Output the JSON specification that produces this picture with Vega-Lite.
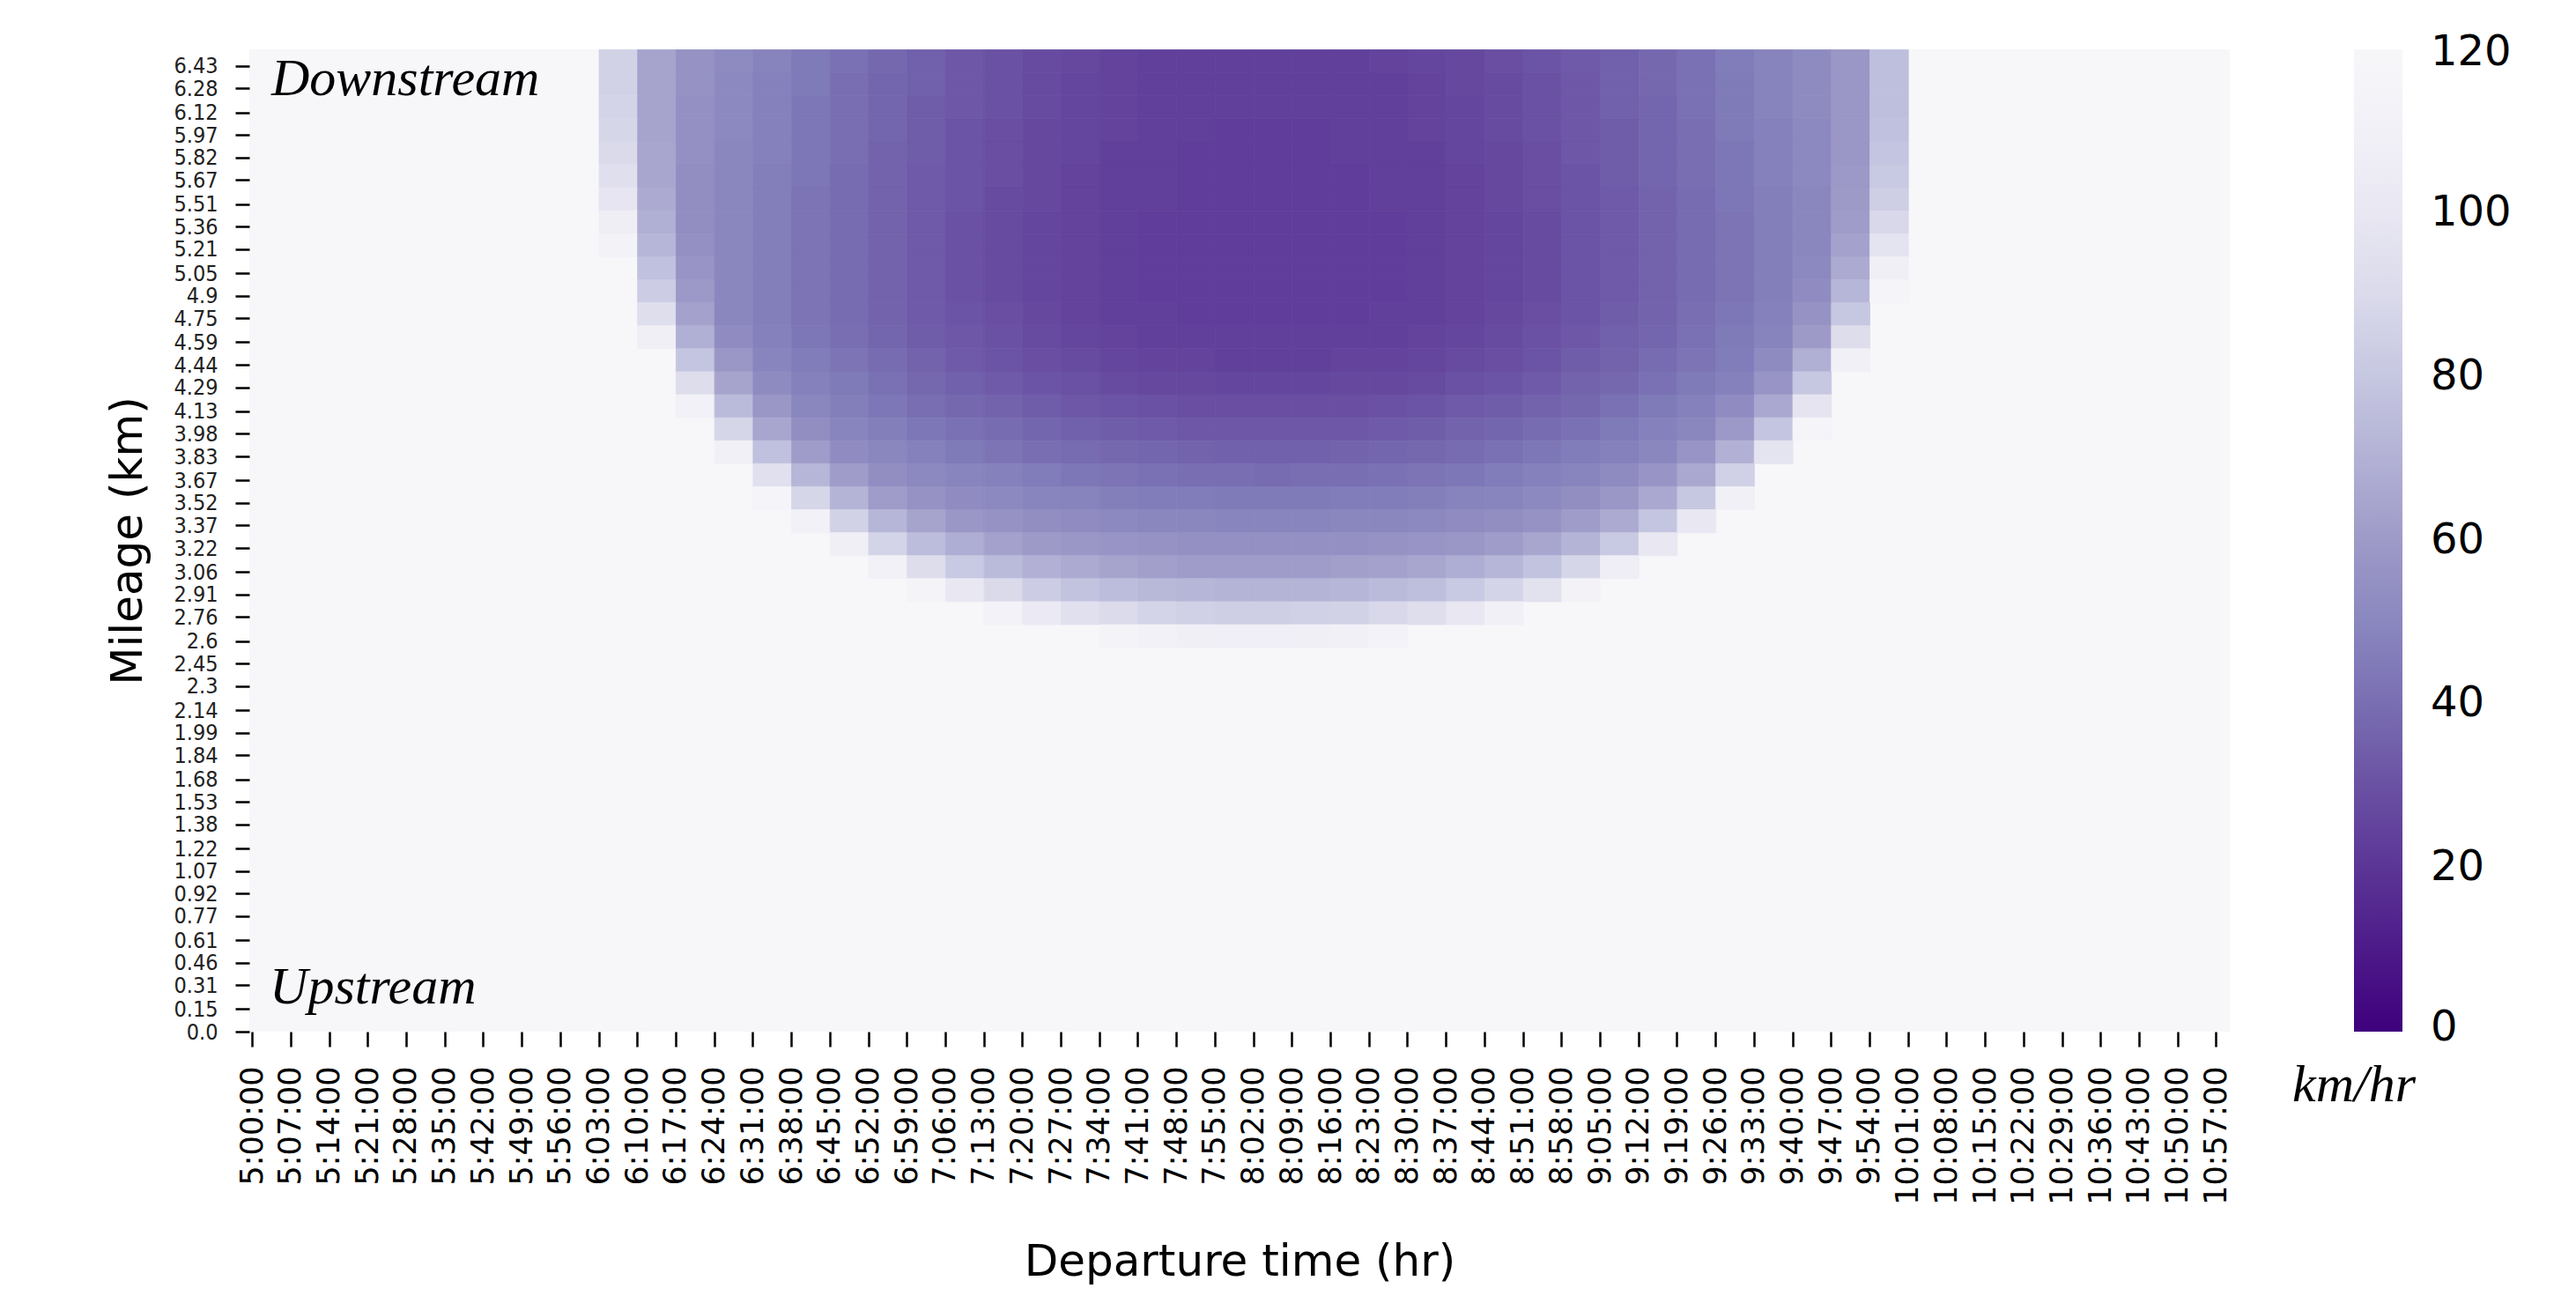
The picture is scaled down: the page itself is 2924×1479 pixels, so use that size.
{
"$schema":"https://vega.github.io/schema/vega-lite/v6.json",
"width":2248,"height":1115,
"autosize":{"type":"none"},
"padding":{"left":283,"top":56,"right":393,"bottom":308},
"background":"white",
"config":{"font":"DejaVu Sans","view":{"stroke":null,"fill":"#f7f7fa"},"axis":{"domain":false,"grid":false,"tickColor":"black","labelColor":"black","titleColor":"black","titleFontWeight":"normal","tickWidth":2.5,"labelOverlap":false,"labelFlush":false}},
"layer":[
{"data":{"values":[
{"min":63,"km":6.43,"v":86},{"min":70,"km":6.43,"v":64},{"min":77,"km":6.43,"v":56},{"min":84,"km":6.43,"v":52},{"min":91,"km":6.43,"v":48},{"min":98,"km":6.43,"v":44},{"min":105,"km":6.43,"v":41},{"min":112,"km":6.43,"v":38},{"min":119,"km":6.43,"v":35},{"min":126,"km":6.43,"v":32},{"min":133,"km":6.43,"v":30},{"min":140,"km":6.43,"v":28},{"min":147,"km":6.43,"v":27},{"min":154,"km":6.43,"v":25},{"min":161,"km":6.43,"v":24},{"min":168,"km":6.43,"v":24},{"min":175,"km":6.43,"v":24},{"min":182,"km":6.43,"v":24},{"min":189,"km":6.43,"v":24},{"min":196,"km":6.43,"v":24},{"min":203,"km":6.43,"v":25},{"min":210,"km":6.43,"v":26},{"min":217,"km":6.43,"v":27},{"min":224,"km":6.43,"v":29},{"min":231,"km":6.43,"v":31},{"min":238,"km":6.43,"v":33},{"min":245,"km":6.43,"v":35},{"min":252,"km":6.43,"v":38},{"min":259,"km":6.43,"v":41},{"min":266,"km":6.43,"v":45},{"min":273,"km":6.43,"v":48},{"min":280,"km":6.43,"v":52},{"min":287,"km":6.43,"v":58},{"min":294,"km":6.43,"v":76},
{"min":63,"km":6.28,"v":86},{"min":70,"km":6.28,"v":64},{"min":77,"km":6.28,"v":56},{"min":84,"km":6.28,"v":51},{"min":91,"km":6.28,"v":47},{"min":98,"km":6.28,"v":44},{"min":105,"km":6.28,"v":40},{"min":112,"km":6.28,"v":37},{"min":119,"km":6.28,"v":35},{"min":126,"km":6.28,"v":32},{"min":133,"km":6.28,"v":30},{"min":140,"km":6.28,"v":28},{"min":147,"km":6.28,"v":26},{"min":154,"km":6.28,"v":25},{"min":161,"km":6.28,"v":24},{"min":168,"km":6.28,"v":24},{"min":175,"km":6.28,"v":24},{"min":182,"km":6.28,"v":24},{"min":189,"km":6.28,"v":24},{"min":196,"km":6.28,"v":24},{"min":203,"km":6.28,"v":24},{"min":210,"km":6.28,"v":25},{"min":217,"km":6.28,"v":27},{"min":224,"km":6.28,"v":28},{"min":231,"km":6.28,"v":30},{"min":238,"km":6.28,"v":32},{"min":245,"km":6.28,"v":35},{"min":252,"km":6.28,"v":38},{"min":259,"km":6.28,"v":41},{"min":266,"km":6.28,"v":44},{"min":273,"km":6.28,"v":48},{"min":280,"km":6.28,"v":52},{"min":287,"km":6.28,"v":58},{"min":294,"km":6.28,"v":76},
{"min":63,"km":6.12,"v":87},{"min":70,"km":6.12,"v":64},{"min":77,"km":6.12,"v":55},{"min":84,"km":6.12,"v":51},{"min":91,"km":6.12,"v":47},{"min":98,"km":6.12,"v":43},{"min":105,"km":6.12,"v":40},{"min":112,"km":6.12,"v":37},{"min":119,"km":6.12,"v":34},{"min":126,"km":6.12,"v":32},{"min":133,"km":6.12,"v":30},{"min":140,"km":6.12,"v":28},{"min":147,"km":6.12,"v":26},{"min":154,"km":6.12,"v":25},{"min":161,"km":6.12,"v":24},{"min":168,"km":6.12,"v":24},{"min":175,"km":6.12,"v":24},{"min":182,"km":6.12,"v":24},{"min":189,"km":6.12,"v":24},{"min":196,"km":6.12,"v":24},{"min":203,"km":6.12,"v":24},{"min":210,"km":6.12,"v":25},{"min":217,"km":6.12,"v":26},{"min":224,"km":6.12,"v":28},{"min":231,"km":6.12,"v":30},{"min":238,"km":6.12,"v":32},{"min":245,"km":6.12,"v":35},{"min":252,"km":6.12,"v":37},{"min":259,"km":6.12,"v":41},{"min":266,"km":6.12,"v":44},{"min":273,"km":6.12,"v":48},{"min":280,"km":6.12,"v":52},{"min":287,"km":6.12,"v":58},{"min":294,"km":6.12,"v":76},
{"min":63,"km":5.97,"v":88},{"min":70,"km":5.97,"v":64},{"min":77,"km":5.97,"v":55},{"min":84,"km":5.97,"v":51},{"min":91,"km":5.97,"v":47},{"min":98,"km":5.97,"v":43},{"min":105,"km":5.97,"v":40},{"min":112,"km":5.97,"v":37},{"min":119,"km":5.97,"v":34},{"min":126,"km":5.97,"v":31},{"min":133,"km":5.97,"v":29},{"min":140,"km":5.97,"v":27},{"min":147,"km":5.97,"v":26},{"min":154,"km":5.97,"v":25},{"min":161,"km":5.97,"v":24},{"min":168,"km":5.97,"v":24},{"min":175,"km":5.97,"v":23},{"min":182,"km":5.97,"v":23},{"min":189,"km":5.97,"v":23},{"min":196,"km":5.97,"v":24},{"min":203,"km":5.97,"v":24},{"min":210,"km":5.97,"v":25},{"min":217,"km":5.97,"v":26},{"min":224,"km":5.97,"v":28},{"min":231,"km":5.97,"v":30},{"min":238,"km":5.97,"v":32},{"min":245,"km":5.97,"v":34},{"min":252,"km":5.97,"v":37},{"min":259,"km":5.97,"v":40},{"min":266,"km":5.97,"v":44},{"min":273,"km":5.97,"v":47},{"min":280,"km":5.97,"v":51},{"min":287,"km":5.97,"v":58},{"min":294,"km":5.97,"v":77},
{"min":63,"km":5.82,"v":90},{"min":70,"km":5.82,"v":65},{"min":77,"km":5.82,"v":55},{"min":84,"km":5.82,"v":50},{"min":91,"km":5.82,"v":47},{"min":98,"km":5.82,"v":43},{"min":105,"km":5.82,"v":40},{"min":112,"km":5.82,"v":36},{"min":119,"km":5.82,"v":34},{"min":126,"km":5.82,"v":31},{"min":133,"km":5.82,"v":29},{"min":140,"km":5.82,"v":27},{"min":147,"km":5.82,"v":26},{"min":154,"km":5.82,"v":24},{"min":161,"km":5.82,"v":24},{"min":168,"km":5.82,"v":23},{"min":175,"km":5.82,"v":23},{"min":182,"km":5.82,"v":23},{"min":189,"km":5.82,"v":23},{"min":196,"km":5.82,"v":24},{"min":203,"km":5.82,"v":24},{"min":210,"km":5.82,"v":24},{"min":217,"km":5.82,"v":26},{"min":224,"km":5.82,"v":27},{"min":231,"km":5.82,"v":29},{"min":238,"km":5.82,"v":32},{"min":245,"km":5.82,"v":34},{"min":252,"km":5.82,"v":37},{"min":259,"km":5.82,"v":40},{"min":266,"km":5.82,"v":43},{"min":273,"km":5.82,"v":47},{"min":280,"km":5.82,"v":51},{"min":287,"km":5.82,"v":58},{"min":294,"km":5.82,"v":79},
{"min":63,"km":5.67,"v":94},{"min":70,"km":5.67,"v":65},{"min":77,"km":5.67,"v":54},{"min":84,"km":5.67,"v":50},{"min":91,"km":5.67,"v":46},{"min":98,"km":5.67,"v":43},{"min":105,"km":5.67,"v":39},{"min":112,"km":5.67,"v":36},{"min":119,"km":5.67,"v":33},{"min":126,"km":5.67,"v":31},{"min":133,"km":5.67,"v":29},{"min":140,"km":5.67,"v":27},{"min":147,"km":5.67,"v":25},{"min":154,"km":5.67,"v":24},{"min":161,"km":5.67,"v":24},{"min":168,"km":5.67,"v":23},{"min":175,"km":5.67,"v":23},{"min":182,"km":5.67,"v":23},{"min":189,"km":5.67,"v":23},{"min":196,"km":5.67,"v":23},{"min":203,"km":5.67,"v":24},{"min":210,"km":5.67,"v":24},{"min":217,"km":5.67,"v":25},{"min":224,"km":5.67,"v":27},{"min":231,"km":5.67,"v":29},{"min":238,"km":5.67,"v":31},{"min":245,"km":5.67,"v":34},{"min":252,"km":5.67,"v":37},{"min":259,"km":5.67,"v":40},{"min":266,"km":5.67,"v":43},{"min":273,"km":5.67,"v":47},{"min":280,"km":5.67,"v":51},{"min":287,"km":5.67,"v":59},{"min":294,"km":5.67,"v":81},
{"min":63,"km":5.51,"v":99},{"min":70,"km":5.51,"v":67},{"min":77,"km":5.51,"v":54},{"min":84,"km":5.51,"v":50},{"min":91,"km":5.51,"v":46},{"min":98,"km":5.51,"v":42},{"min":105,"km":5.51,"v":39},{"min":112,"km":5.51,"v":36},{"min":119,"km":5.51,"v":33},{"min":126,"km":5.51,"v":31},{"min":133,"km":5.51,"v":28},{"min":140,"km":5.51,"v":27},{"min":147,"km":5.51,"v":25},{"min":154,"km":5.51,"v":24},{"min":161,"km":5.51,"v":24},{"min":168,"km":5.51,"v":23},{"min":175,"km":5.51,"v":23},{"min":182,"km":5.51,"v":23},{"min":189,"km":5.51,"v":23},{"min":196,"km":5.51,"v":23},{"min":203,"km":5.51,"v":24},{"min":210,"km":5.51,"v":24},{"min":217,"km":5.51,"v":25},{"min":224,"km":5.51,"v":27},{"min":231,"km":5.51,"v":29},{"min":238,"km":5.51,"v":31},{"min":245,"km":5.51,"v":33},{"min":252,"km":5.51,"v":36},{"min":259,"km":5.51,"v":39},{"min":266,"km":5.51,"v":43},{"min":273,"km":5.51,"v":46},{"min":280,"km":5.51,"v":50},{"min":287,"km":5.51,"v":60},{"min":294,"km":5.51,"v":84},
{"min":63,"km":5.36,"v":106},{"min":70,"km":5.36,"v":69},{"min":77,"km":5.36,"v":54},{"min":84,"km":5.36,"v":50},{"min":91,"km":5.36,"v":46},{"min":98,"km":5.36,"v":42},{"min":105,"km":5.36,"v":39},{"min":112,"km":5.36,"v":36},{"min":119,"km":5.36,"v":33},{"min":126,"km":5.36,"v":30},{"min":133,"km":5.36,"v":28},{"min":140,"km":5.36,"v":26},{"min":147,"km":5.36,"v":25},{"min":154,"km":5.36,"v":24},{"min":161,"km":5.36,"v":23},{"min":168,"km":5.36,"v":23},{"min":175,"km":5.36,"v":23},{"min":182,"km":5.36,"v":23},{"min":189,"km":5.36,"v":23},{"min":196,"km":5.36,"v":23},{"min":203,"km":5.36,"v":23},{"min":210,"km":5.36,"v":24},{"min":217,"km":5.36,"v":25},{"min":224,"km":5.36,"v":26},{"min":231,"km":5.36,"v":28},{"min":238,"km":5.36,"v":31},{"min":245,"km":5.36,"v":33},{"min":252,"km":5.36,"v":36},{"min":259,"km":5.36,"v":39},{"min":266,"km":5.36,"v":42},{"min":273,"km":5.36,"v":46},{"min":280,"km":5.36,"v":50},{"min":287,"km":5.36,"v":61},{"min":294,"km":5.36,"v":89},
{"min":63,"km":5.21,"v":112},{"min":70,"km":5.21,"v":72},{"min":77,"km":5.21,"v":55},{"min":84,"km":5.21,"v":50},{"min":91,"km":5.21,"v":46},{"min":98,"km":5.21,"v":42},{"min":105,"km":5.21,"v":39},{"min":112,"km":5.21,"v":36},{"min":119,"km":5.21,"v":33},{"min":126,"km":5.21,"v":30},{"min":133,"km":5.21,"v":28},{"min":140,"km":5.21,"v":26},{"min":147,"km":5.21,"v":25},{"min":154,"km":5.21,"v":24},{"min":161,"km":5.21,"v":23},{"min":168,"km":5.21,"v":23},{"min":175,"km":5.21,"v":23},{"min":182,"km":5.21,"v":23},{"min":189,"km":5.21,"v":23},{"min":196,"km":5.21,"v":23},{"min":203,"km":5.21,"v":23},{"min":210,"km":5.21,"v":24},{"min":217,"km":5.21,"v":25},{"min":224,"km":5.21,"v":26},{"min":231,"km":5.21,"v":28},{"min":238,"km":5.21,"v":31},{"min":245,"km":5.21,"v":33},{"min":252,"km":5.21,"v":36},{"min":259,"km":5.21,"v":39},{"min":266,"km":5.21,"v":42},{"min":273,"km":5.21,"v":46},{"min":280,"km":5.21,"v":50},{"min":287,"km":5.21,"v":63},{"min":294,"km":5.21,"v":97},
{"min":70,"km":5.05,"v":77},{"min":77,"km":5.05,"v":57},{"min":84,"km":5.05,"v":50},{"min":91,"km":5.05,"v":46},{"min":98,"km":5.05,"v":42},{"min":105,"km":5.05,"v":39},{"min":112,"km":5.05,"v":36},{"min":119,"km":5.05,"v":33},{"min":126,"km":5.05,"v":30},{"min":133,"km":5.05,"v":28},{"min":140,"km":5.05,"v":26},{"min":147,"km":5.05,"v":25},{"min":154,"km":5.05,"v":24},{"min":161,"km":5.05,"v":23},{"min":168,"km":5.05,"v":23},{"min":175,"km":5.05,"v":23},{"min":182,"km":5.05,"v":23},{"min":189,"km":5.05,"v":23},{"min":196,"km":5.05,"v":23},{"min":203,"km":5.05,"v":23},{"min":210,"km":5.05,"v":24},{"min":217,"km":5.05,"v":25},{"min":224,"km":5.05,"v":26},{"min":231,"km":5.05,"v":28},{"min":238,"km":5.05,"v":31},{"min":245,"km":5.05,"v":33},{"min":252,"km":5.05,"v":36},{"min":259,"km":5.05,"v":39},{"min":266,"km":5.05,"v":42},{"min":273,"km":5.05,"v":46},{"min":280,"km":5.05,"v":51},{"min":287,"km":5.05,"v":67},{"min":294,"km":5.05,"v":108},
{"min":70,"km":4.9,"v":83},{"min":77,"km":4.9,"v":59},{"min":84,"km":4.9,"v":50},{"min":91,"km":4.9,"v":46},{"min":98,"km":4.9,"v":42},{"min":105,"km":4.9,"v":39},{"min":112,"km":4.9,"v":36},{"min":119,"km":4.9,"v":33},{"min":126,"km":4.9,"v":30},{"min":133,"km":4.9,"v":28},{"min":140,"km":4.9,"v":26},{"min":147,"km":4.9,"v":25},{"min":154,"km":4.9,"v":24},{"min":161,"km":4.9,"v":23},{"min":168,"km":4.9,"v":23},{"min":175,"km":4.9,"v":23},{"min":182,"km":4.9,"v":23},{"min":189,"km":4.9,"v":23},{"min":196,"km":4.9,"v":23},{"min":203,"km":4.9,"v":23},{"min":210,"km":4.9,"v":24},{"min":217,"km":4.9,"v":25},{"min":224,"km":4.9,"v":26},{"min":231,"km":4.9,"v":28},{"min":238,"km":4.9,"v":31},{"min":245,"km":4.9,"v":33},{"min":252,"km":4.9,"v":36},{"min":259,"km":4.9,"v":39},{"min":266,"km":4.9,"v":42},{"min":273,"km":4.9,"v":46},{"min":280,"km":4.9,"v":53},{"min":287,"km":4.9,"v":72},{"min":294,"km":4.9,"v":116},
{"min":70,"km":4.75,"v":93},{"min":77,"km":4.75,"v":63},{"min":84,"km":4.75,"v":50},{"min":91,"km":4.75,"v":46},{"min":98,"km":4.75,"v":42},{"min":105,"km":4.75,"v":39},{"min":112,"km":4.75,"v":36},{"min":119,"km":4.75,"v":33},{"min":126,"km":4.75,"v":31},{"min":133,"km":4.75,"v":29},{"min":140,"km":4.75,"v":27},{"min":147,"km":4.75,"v":25},{"min":154,"km":4.75,"v":24},{"min":161,"km":4.75,"v":24},{"min":168,"km":4.75,"v":23},{"min":175,"km":4.75,"v":23},{"min":182,"km":4.75,"v":23},{"min":189,"km":4.75,"v":23},{"min":196,"km":4.75,"v":23},{"min":203,"km":4.75,"v":24},{"min":210,"km":4.75,"v":24},{"min":217,"km":4.75,"v":25},{"min":224,"km":4.75,"v":27},{"min":231,"km":4.75,"v":29},{"min":238,"km":4.75,"v":31},{"min":245,"km":4.75,"v":34},{"min":252,"km":4.75,"v":36},{"min":259,"km":4.75,"v":40},{"min":266,"km":4.75,"v":43},{"min":273,"km":4.75,"v":47},{"min":280,"km":4.75,"v":56},{"min":287,"km":4.75,"v":80},
{"min":70,"km":4.59,"v":108},{"min":77,"km":4.59,"v":69},{"min":84,"km":4.59,"v":53},{"min":91,"km":4.59,"v":47},{"min":98,"km":4.59,"v":43},{"min":105,"km":4.59,"v":40},{"min":112,"km":4.59,"v":37},{"min":119,"km":4.59,"v":34},{"min":126,"km":4.59,"v":32},{"min":133,"km":4.59,"v":30},{"min":140,"km":4.59,"v":28},{"min":147,"km":4.59,"v":26},{"min":154,"km":4.59,"v":25},{"min":161,"km":4.59,"v":24},{"min":168,"km":4.59,"v":24},{"min":175,"km":4.59,"v":24},{"min":182,"km":4.59,"v":24},{"min":189,"km":4.59,"v":24},{"min":196,"km":4.59,"v":24},{"min":203,"km":4.59,"v":24},{"min":210,"km":4.59,"v":25},{"min":217,"km":4.59,"v":26},{"min":224,"km":4.59,"v":28},{"min":231,"km":4.59,"v":30},{"min":238,"km":4.59,"v":32},{"min":245,"km":4.59,"v":35},{"min":252,"km":4.59,"v":37},{"min":259,"km":4.59,"v":41},{"min":266,"km":4.59,"v":44},{"min":273,"km":4.59,"v":48},{"min":280,"km":4.59,"v":60},{"min":287,"km":4.59,"v":92},
{"min":77,"km":4.44,"v":79},{"min":84,"km":4.44,"v":58},{"min":91,"km":4.44,"v":49},{"min":98,"km":4.44,"v":45},{"min":105,"km":4.44,"v":42},{"min":112,"km":4.44,"v":39},{"min":119,"km":4.44,"v":36},{"min":126,"km":4.44,"v":33},{"min":133,"km":4.44,"v":31},{"min":140,"km":4.44,"v":29},{"min":147,"km":4.44,"v":28},{"min":154,"km":4.44,"v":26},{"min":161,"km":4.44,"v":25},{"min":168,"km":4.44,"v":25},{"min":175,"km":4.44,"v":24},{"min":182,"km":4.44,"v":24},{"min":189,"km":4.44,"v":24},{"min":196,"km":4.44,"v":25},{"min":203,"km":4.44,"v":25},{"min":210,"km":4.44,"v":26},{"min":217,"km":4.44,"v":28},{"min":224,"km":4.44,"v":29},{"min":231,"km":4.44,"v":31},{"min":238,"km":4.44,"v":34},{"min":245,"km":4.44,"v":36},{"min":252,"km":4.44,"v":39},{"min":259,"km":4.44,"v":42},{"min":266,"km":4.44,"v":45},{"min":273,"km":4.44,"v":52},{"min":280,"km":4.44,"v":69},{"min":287,"km":4.44,"v":109},
{"min":77,"km":4.29,"v":92},{"min":84,"km":4.29,"v":64},{"min":91,"km":4.29,"v":52},{"min":98,"km":4.29,"v":47},{"min":105,"km":4.29,"v":44},{"min":112,"km":4.29,"v":41},{"min":119,"km":4.29,"v":38},{"min":126,"km":4.29,"v":35},{"min":133,"km":4.29,"v":33},{"min":140,"km":4.29,"v":31},{"min":147,"km":4.29,"v":30},{"min":154,"km":4.29,"v":28},{"min":161,"km":4.29,"v":27},{"min":168,"km":4.29,"v":27},{"min":175,"km":4.29,"v":26},{"min":182,"km":4.29,"v":26},{"min":189,"km":4.29,"v":26},{"min":196,"km":4.29,"v":27},{"min":203,"km":4.29,"v":27},{"min":210,"km":4.29,"v":28},{"min":217,"km":4.29,"v":30},{"min":224,"km":4.29,"v":31},{"min":231,"km":4.29,"v":33},{"min":238,"km":4.29,"v":36},{"min":245,"km":4.29,"v":38},{"min":252,"km":4.29,"v":41},{"min":259,"km":4.29,"v":44},{"min":266,"km":4.29,"v":47},{"min":273,"km":4.29,"v":57},{"min":280,"km":4.29,"v":80},
{"min":77,"km":4.13,"v":111},{"min":84,"km":4.13,"v":74},{"min":91,"km":4.13,"v":58},{"min":98,"km":4.13,"v":50},{"min":105,"km":4.13,"v":46},{"min":112,"km":4.13,"v":43},{"min":119,"km":4.13,"v":40},{"min":126,"km":4.13,"v":38},{"min":133,"km":4.13,"v":36},{"min":140,"km":4.13,"v":34},{"min":147,"km":4.13,"v":32},{"min":154,"km":4.13,"v":31},{"min":161,"km":4.13,"v":30},{"min":168,"km":4.13,"v":29},{"min":175,"km":4.13,"v":29},{"min":182,"km":4.13,"v":29},{"min":189,"km":4.13,"v":29},{"min":196,"km":4.13,"v":29},{"min":203,"km":4.13,"v":30},{"min":210,"km":4.13,"v":31},{"min":217,"km":4.13,"v":33},{"min":224,"km":4.13,"v":34},{"min":231,"km":4.13,"v":36},{"min":238,"km":4.13,"v":38},{"min":245,"km":4.13,"v":41},{"min":252,"km":4.13,"v":44},{"min":259,"km":4.13,"v":47},{"min":266,"km":4.13,"v":53},{"min":273,"km":4.13,"v":66},{"min":280,"km":4.13,"v":98},
{"min":84,"km":3.98,"v":88},{"min":91,"km":3.98,"v":65},{"min":98,"km":3.98,"v":54},{"min":105,"km":3.98,"v":49},{"min":112,"km":3.98,"v":46},{"min":119,"km":3.98,"v":43},{"min":126,"km":3.98,"v":41},{"min":133,"km":3.98,"v":39},{"min":140,"km":3.98,"v":37},{"min":147,"km":3.98,"v":35},{"min":154,"km":3.98,"v":34},{"min":161,"km":3.98,"v":33},{"min":168,"km":3.98,"v":32},{"min":175,"km":3.98,"v":32},{"min":182,"km":3.98,"v":32},{"min":189,"km":3.98,"v":32},{"min":196,"km":3.98,"v":32},{"min":203,"km":3.98,"v":33},{"min":210,"km":3.98,"v":34},{"min":217,"km":3.98,"v":36},{"min":224,"km":3.98,"v":37},{"min":231,"km":3.98,"v":39},{"min":238,"km":3.98,"v":41},{"min":245,"km":3.98,"v":44},{"min":252,"km":3.98,"v":47},{"min":259,"km":3.98,"v":50},{"min":266,"km":3.98,"v":59},{"min":273,"km":3.98,"v":79},{"min":280,"km":3.98,"v":116},
{"min":84,"km":3.83,"v":109},{"min":91,"km":3.83,"v":77},{"min":98,"km":3.83,"v":61},{"min":105,"km":3.83,"v":53},{"min":112,"km":3.83,"v":50},{"min":119,"km":3.83,"v":47},{"min":126,"km":3.83,"v":44},{"min":133,"km":3.83,"v":42},{"min":140,"km":3.83,"v":40},{"min":147,"km":3.83,"v":39},{"min":154,"km":3.83,"v":38},{"min":161,"km":3.83,"v":37},{"min":168,"km":3.83,"v":36},{"min":175,"km":3.83,"v":35},{"min":182,"km":3.83,"v":35},{"min":189,"km":3.83,"v":35},{"min":196,"km":3.83,"v":36},{"min":203,"km":3.83,"v":37},{"min":210,"km":3.83,"v":38},{"min":217,"km":3.83,"v":39},{"min":224,"km":3.83,"v":41},{"min":231,"km":3.83,"v":43},{"min":238,"km":3.83,"v":45},{"min":245,"km":3.83,"v":47},{"min":252,"km":3.83,"v":50},{"min":259,"km":3.83,"v":57},{"min":266,"km":3.83,"v":70},{"min":273,"km":3.83,"v":97},
{"min":91,"km":3.67,"v":95},{"min":98,"km":3.67,"v":72},{"min":105,"km":3.67,"v":61},{"min":112,"km":3.67,"v":54},{"min":119,"km":3.67,"v":51},{"min":126,"km":3.67,"v":49},{"min":133,"km":3.67,"v":47},{"min":140,"km":3.67,"v":45},{"min":147,"km":3.67,"v":43},{"min":154,"km":3.67,"v":42},{"min":161,"km":3.67,"v":41},{"min":168,"km":3.67,"v":40},{"min":175,"km":3.67,"v":40},{"min":182,"km":3.67,"v":39},{"min":189,"km":3.67,"v":40},{"min":196,"km":3.67,"v":40},{"min":203,"km":3.67,"v":41},{"min":210,"km":3.67,"v":42},{"min":217,"km":3.67,"v":43},{"min":224,"km":3.67,"v":45},{"min":231,"km":3.67,"v":47},{"min":238,"km":3.67,"v":49},{"min":245,"km":3.67,"v":52},{"min":252,"km":3.67,"v":57},{"min":259,"km":3.67,"v":66},{"min":266,"km":3.67,"v":85},
{"min":91,"km":3.52,"v":116},{"min":98,"km":3.52,"v":88},{"min":105,"km":3.52,"v":71},{"min":112,"km":3.52,"v":61},{"min":119,"km":3.52,"v":56},{"min":126,"km":3.52,"v":53},{"min":133,"km":3.52,"v":51},{"min":140,"km":3.52,"v":49},{"min":147,"km":3.52,"v":48},{"min":154,"km":3.52,"v":46},{"min":161,"km":3.52,"v":45},{"min":168,"km":3.52,"v":45},{"min":175,"km":3.52,"v":44},{"min":182,"km":3.52,"v":44},{"min":189,"km":3.52,"v":44},{"min":196,"km":3.52,"v":45},{"min":203,"km":3.52,"v":45},{"min":210,"km":3.52,"v":46},{"min":217,"km":3.52,"v":48},{"min":224,"km":3.52,"v":49},{"min":231,"km":3.52,"v":51},{"min":238,"km":3.52,"v":54},{"min":245,"km":3.52,"v":58},{"min":252,"km":3.52,"v":66},{"min":259,"km":3.52,"v":80},{"min":266,"km":3.52,"v":109},
{"min":98,"km":3.37,"v":111},{"min":105,"km":3.37,"v":86},{"min":112,"km":3.37,"v":72},{"min":119,"km":3.37,"v":64},{"min":126,"km":3.37,"v":58},{"min":133,"km":3.37,"v":56},{"min":140,"km":3.37,"v":54},{"min":147,"km":3.37,"v":53},{"min":154,"km":3.37,"v":51},{"min":161,"km":3.37,"v":50},{"min":168,"km":3.37,"v":50},{"min":175,"km":3.37,"v":49},{"min":182,"km":3.37,"v":49},{"min":189,"km":3.37,"v":49},{"min":196,"km":3.37,"v":50},{"min":203,"km":3.37,"v":50},{"min":210,"km":3.37,"v":51},{"min":217,"km":3.37,"v":53},{"min":224,"km":3.37,"v":54},{"min":231,"km":3.37,"v":56},{"min":238,"km":3.37,"v":61},{"min":245,"km":3.37,"v":67},{"min":252,"km":3.37,"v":79},{"min":259,"km":3.37,"v":101},
{"min":105,"km":3.22,"v":108},{"min":112,"km":3.22,"v":87},{"min":119,"km":3.22,"v":75},{"min":126,"km":3.22,"v":68},{"min":133,"km":3.22,"v":63},{"min":140,"km":3.22,"v":60},{"min":147,"km":3.22,"v":58},{"min":154,"km":3.22,"v":57},{"min":161,"km":3.22,"v":56},{"min":168,"km":3.22,"v":55},{"min":175,"km":3.22,"v":55},{"min":182,"km":3.22,"v":55},{"min":189,"km":3.22,"v":55},{"min":196,"km":3.22,"v":55},{"min":203,"km":3.22,"v":56},{"min":210,"km":3.22,"v":57},{"min":217,"km":3.22,"v":58},{"min":224,"km":3.22,"v":61},{"min":231,"km":3.22,"v":65},{"min":238,"km":3.22,"v":71},{"min":245,"km":3.22,"v":81},{"min":252,"km":3.22,"v":101},
{"min":112,"km":3.06,"v":111},{"min":119,"km":3.06,"v":92},{"min":126,"km":3.06,"v":81},{"min":133,"km":3.06,"v":74},{"min":140,"km":3.06,"v":70},{"min":147,"km":3.06,"v":67},{"min":154,"km":3.06,"v":64},{"min":161,"km":3.06,"v":62},{"min":168,"km":3.06,"v":61},{"min":175,"km":3.06,"v":61},{"min":182,"km":3.06,"v":61},{"min":189,"km":3.06,"v":61},{"min":196,"km":3.06,"v":62},{"min":203,"km":3.06,"v":63},{"min":210,"km":3.06,"v":65},{"min":217,"km":3.06,"v":68},{"min":224,"km":3.06,"v":72},{"min":231,"km":3.06,"v":78},{"min":238,"km":3.06,"v":88},{"min":245,"km":3.06,"v":105},
{"min":119,"km":2.91,"v":115},{"min":126,"km":2.91,"v":101},{"min":133,"km":2.91,"v":90},{"min":140,"km":2.91,"v":83},{"min":147,"km":2.91,"v":78},{"min":154,"km":2.91,"v":75},{"min":161,"km":2.91,"v":73},{"min":168,"km":2.91,"v":72},{"min":175,"km":2.91,"v":71},{"min":182,"km":2.91,"v":71},{"min":189,"km":2.91,"v":71},{"min":196,"km":2.91,"v":72},{"min":203,"km":2.91,"v":74},{"min":210,"km":2.91,"v":76},{"min":217,"km":2.91,"v":81},{"min":224,"km":2.91,"v":87},{"min":231,"km":2.91,"v":96},{"min":238,"km":2.91,"v":112},
{"min":133,"km":2.76,"v":113},{"min":140,"km":2.76,"v":102},{"min":147,"km":2.76,"v":95},{"min":154,"km":2.76,"v":91},{"min":161,"km":2.76,"v":87},{"min":168,"km":2.76,"v":85},{"min":175,"km":2.76,"v":84},{"min":182,"km":2.76,"v":84},{"min":189,"km":2.76,"v":85},{"min":196,"km":2.76,"v":86},{"min":203,"km":2.76,"v":89},{"min":210,"km":2.76,"v":93},{"min":217,"km":2.76,"v":100},{"min":224,"km":2.76,"v":110},
{"min":154,"km":2.6,"v":114},{"min":161,"km":2.6,"v":111},{"min":168,"km":2.6,"v":108},{"min":175,"km":2.6,"v":107},{"min":182,"km":2.6,"v":107},{"min":189,"km":2.6,"v":108},{"min":196,"km":2.6,"v":110},{"min":203,"km":2.6,"v":113}
]},
"mark":{"type":"rect","strokeWidth":0.8,"stroke":{"expr":"scale('color', datum.v)"}},
"encoding":{
"x":{"field":"min","type":"quantitative","bin":{"step":7,"extent":[0,364]},"scale":{"domain":[-0.5,359.5],"nice":false,"zero":false},
"axis":{"values":[0,7,14,21,28,35,42,49,56,63,70,77,84,91,98,105,112,119,126,133,140,147,154,161,168,175,182,189,196,203,210,217,224,231,238,245,252,259,266,273,280,287,294,301,308,315,322,329,336,343,350,357],"tickCount":200,
"labelExpr":"(floor(datum.value/60)+5) + ':' + (datum.value%60 < 10 ? '0' : '') + (datum.value%60) + ':00'",
"labelAngle":-90,"labelFontSize":35,"labelOverlap":false,"tickSize":17,"labelPadding":22,"title":"Departure time (hr)","titleFontSize":50,"titlePadding":40}},
"y":{"field":"km","type":"quantitative","bin":{"step":0.1531,"anchor":6.54,"extent":[0,6.6],"nice":false},"scale":{"domain":[0,6.54],"nice":false,"zero":false},
"axis":{"values":[0,0.15,0.31,0.46,0.61,0.77,0.92,1.07,1.22,1.38,1.53,1.68,1.84,1.99,2.14,2.3,2.45,2.6,2.76,2.91,3.06,3.22,3.37,3.52,3.67,3.83,3.98,4.13,4.29,4.44,4.59,4.75,4.9,5.05,5.21,5.36,5.51,5.67,5.82,5.97,6.12,6.28,6.43],"tickCount":200,
"labelExpr":"datum.value == 0 ? '0.0' : format(datum.value, '.2~f')",
"labelFont":"Liberation Sans Narrow, DejaVu Sans Condensed, DejaVu Sans","labelFontSize":25,"labelColor":"#222222","labelOverlap":false,"tickSize":16,"labelPadding":20,"title":"Mileage (km)","titleFontSize":50,"titlePadding":26}},
"color":{"field":"v","type":"quantitative","scale":{"domain":[0,15,30,45,60,75,90,105,120],"range":["#3f007d","#54278f","#6a51a3","#807dba","#9e9ac8","#bcbddc","#dadaeb","#efedf5","#f7f7fa"],"interpolate":"rgb"},
"legend":{"type":"gradient","orient":"right","offset":71,"direction":"vertical","gradientLength":1115,"gradientThickness":55,"gradientStrokeWidth":0,"values":[0.4,20,40,60,80,100,119.6],"format":"d","labelFontSize":48,"labelColor":"black","labelAlign":"left","labelOffset":32,"labelBaseline":"middle","title":"km/hr","titleOrient":"bottom","titleFont":"Liberation Serif","titleFontStyle":"italic","titleFontWeight":"normal","titleFontSize":60,"titleColor":"black","titleAnchor":"start","titleAlign":"center","titlePadding":12,"padding":0}}
}},
{"data":{"values":[{"label":"Downstream","min":3.5,"km":6.235},{"label":"Upstream","min":3.2,"km":0.188}]},
"mark":{"type":"text","font":"Liberation Serif","fontStyle":"italic","fontSize":60,"align":"left","baseline":"alphabetic","color":"black"},
"encoding":{"x":{"field":"min","type":"quantitative","scale":{"domain":[-0.5,359.5],"nice":false,"zero":false}},"y":{"field":"km","type":"quantitative","scale":{"domain":[0,6.54],"nice":false,"zero":false}},"text":{"field":"label"}}}
]
}
